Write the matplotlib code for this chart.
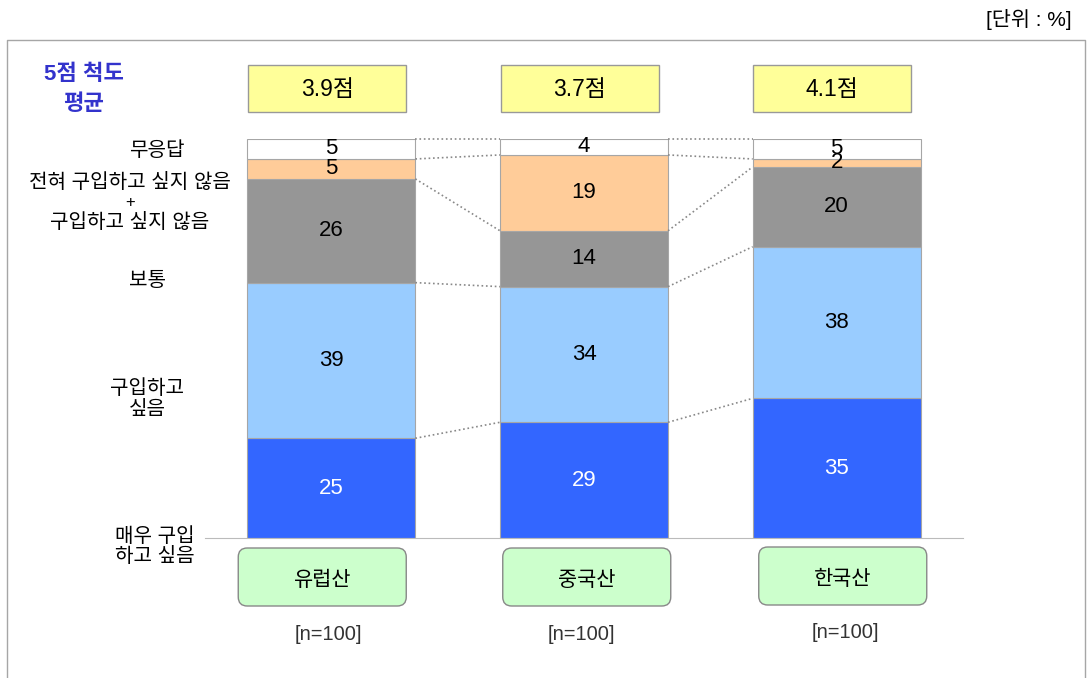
import matplotlib.pyplot as plt
from matplotlib.patches import Rectangle, FancyBboxPatch

plt.rcParams['font.family'] = ['Liberation Sans', 'Noto Sans CJK KR', 'DejaVu Sans']

# data
categories = ['유럽산', '중국산', '한국산']
sample_labels = ['[n=100]', '[n=100]', '[n=100]']
mean_scores = ['3.9점', '3.7점', '4.1점']
# segments from bottom to top
very_want = [25, 29, 35]
want = [39, 34, 38]
neutral = [26, 14, 20]
not_want = [5, 19, 2]
no_answer = [5, 4, 5]

series = [very_want, want, neutral, not_want, no_answer]
colors = ['#3366ff', '#99ccff', '#969696', '#ffcc99', '#ffffff']
text_colors = ['white', 'black', 'black', 'black', 'black']

W, H = 1087, 678
fig = plt.figure(figsize=(W / 100, H / 100), dpi=100)

# overlay in pixel coordinates for frame and labels
over = fig.add_axes([0, 0, 1, 1], zorder=0)
over.set_xlim(0, W)
over.set_ylim(H, 0)
over.axis('off')

ax = fig.add_axes([205 / W, (H - 538) / H, (963 - 205) / W, 399 / H], zorder=1)
ax.patch.set_alpha(0)
ax.set_xlim(-0.5, 2.5)
ax.set_ylim(0, 100)
for s in ['top', 'left', 'right']:
    ax.spines[s].set_visible(False)
ax.spines['bottom'].set_color('#bbbbbb')
ax.set_xticks([])
ax.set_yticks([])

x = list(range(len(categories)))
bw = 0.665
bottoms = [0] * len(categories)
bounds = []
for vals, c, tc in zip(series, colors, text_colors):
    ax.bar(x, vals, bottom=bottoms, width=bw, color=c, edgecolor='#a6a6a6', linewidth=0.8)
    for i, v in enumerate(vals):
        ax.text(x[i], bottoms[i] + v / 2, str(v), ha='center', va='center',
                fontsize=16, color=tc)
    bottoms = [b + v for b, v in zip(bottoms, vals)]
    bounds.append(list(bottoms))

# dotted connectors between bars
for level in bounds:
    for i in range(len(categories) - 1):
        ax.plot([x[i] + bw / 2, x[i + 1] - bw / 2], [level[i], level[i + 1]],
                ls=':', color='#888888', lw=1.2, clip_on=False)

# outer frame (open at bottom)
over.plot([7, 7, 1085, 1085], [H, 40, 40, H], color='#a6a6a6', lw=1)
over.text(1072, 19, '[단위 : %]', ha='right', va='center', fontsize=15)

# mean score label and boxes
over.text(84, 75, '5점 척도', ha='center', va='center', fontsize=16,
          fontweight='bold', color='#3333cc')
over.text(84, 105, '평균', ha='center', va='center', fontsize=16,
          fontweight='bold', color='#3333cc')

centers = [205 + (i + 0.5) * 252.5 for i in x]
box_shift = [-9, 3, 6.5]
box_top = [548, 548, 547]
n_shift = [-3, -2.5, 9]
n_y = [635, 635, 632]
for i, cx in enumerate(centers):
    over.add_patch(Rectangle((cx - 83, 65), 158, 47, facecolor='#ffff99',
                             edgecolor='#999999', lw=1))
    over.text(cx - 4, 90, mean_scores[i], ha='center', va='center', fontsize=16.5)

    bx = cx + box_shift[i]
    over.add_patch(FancyBboxPatch((bx - 84, box_top[i]), 168, 58,
                                  boxstyle='round,pad=0,rounding_size=9',
                                  facecolor='#ccffcc', edgecolor='#888888', lw=1))
    over.text(bx, box_top[i] + 32, categories[i], ha='center', va='center', fontsize=15)
    over.text(cx + n_shift[i], n_y[i], sample_labels[i],
              ha='center', va='center', fontsize=14.5, color='#333333')

# legend-like labels on the left
left_labels = [
    (157, 150, '무응답'),
    (130, 183, '전혀 구입하고 싶지 않음'),
    (130, 202, '+'),
    (130, 222, '구입하고 싶지 않음'),
    (147, 280, '보통'),
    (147, 388, '구입하고'),
    (147, 410, '싶음'),
    (155, 537, '매우 구입'),
    (155, 556, '하고 싶음'),
]
for lx, ly, t in left_labels:
    over.text(lx, ly, t, ha='center', va='center',
              fontsize=12 if t == '+' else 14.5)

fig.savefig('out.png', dpi=100, facecolor='white')
